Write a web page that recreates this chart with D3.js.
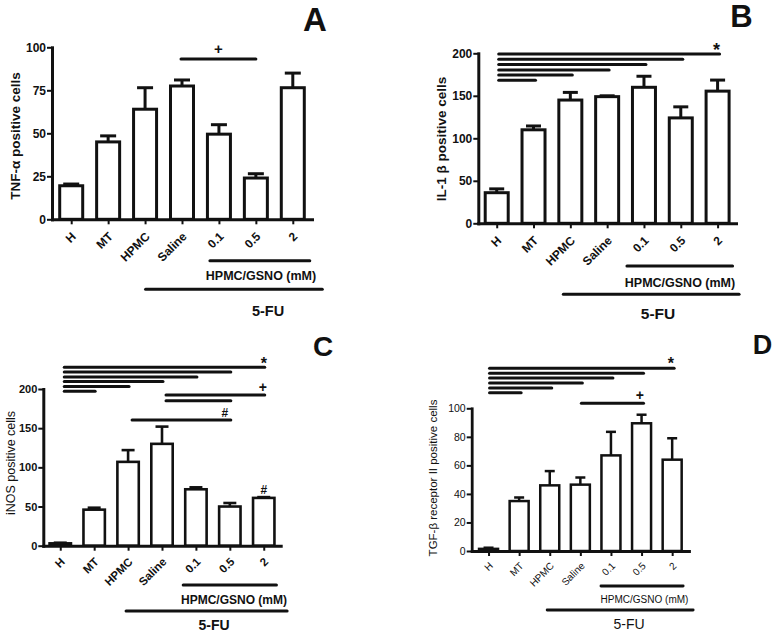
<!DOCTYPE html>
<html><head><meta charset="utf-8">
<script src="https://cdn.jsdelivr.net/npm/d3@7"></script>
<style>
body{margin:0;background:#fff}
svg{display:block}
text{font-family:"Liberation Sans",Arial,Helvetica,sans-serif;fill:#111}
</style>
</head><body>
<svg id="chart" width="776" height="637"></svg>
<script>
// ---------- DATA ----------
const categories = ["H", "MT", "HPMC", "Saline", "0.1", "0.5", "2"];

const tnfMean = [19.5, 45, 64, 77.5, 49.5, 24, 76.5];
const tnfErr  = [1, 3.5, 12.5, 3.5, 5.5, 2.5, 8.5];
const tnfTicks = [0, 25, 50, 75, 100];

const il1Mean = [36, 110, 145, 149, 160, 124, 155.5];
const il1Err  = [4.5, 4.5, 9, 1, 13, 13, 13];
const il1Ticks = [0, 50, 100, 150, 200];

const inosMean = [3, 46, 107, 130, 72, 50, 61];
const inosErr  = [0.8, 2.5, 15, 22, 2.5, 4.5, 1];
const inosTicks = [0, 50, 100, 150, 200];

const tgfMean = [1.5, 35, 46, 46.5, 67, 89.5, 64];
const tgfErr  = [0.8, 2.5, 10, 5, 16.5, 6, 15];
const tgfTicks = [0, 20, 40, 60, 80, 100];

// significance comparisons: [from, to, symbol]
const sigA = [["Saline", "0.5", "+"]];
const sigB = [["H","2","*"],["H","0.5",""],["H","0.1",""],["H","Saline",""],["H","HPMC",""],["H","MT",""]];
const sigC = [["H","2","*"],["H","0.5",""],["H","0.1",""],["H","Saline",""],["H","HPMC",""],["H","MT",""],
              ["Saline","2","+"],["Saline","0.5",""],["HPMC","0.5","#"]];
const sigD = [["H","2","*"],["H","0.5",""],["H","0.1",""],["H","Saline",""],["H","HPMC",""],["H","MT",""],
              ["Saline","0.5","+"]];
const barMarksC = [["2", "#"]];

const yLabels = ["TNF-\u03b1 positive cells", "IL-1 \u03b2 positive cells", "iNOS positive cells", "TGF-\u03b2 receptor II positive cells"];
const groupLabel = "HPMC/GSNO (mM)";
const drugLabel = "5-FU";
const panelLetters = ["A", "B", "C", "D"];

// ---------- DRAW ----------
const svg = d3.select("#chart");
const INK = "#111";

function panel(c) {
  const g = svg.append("g");
  const y = d3.scaleLinear().domain([0, d3.max(c.ticks)]).range([c.y0, c.yTop]);
  const x = d3.scalePoint().domain(categories).range([c.axisX, c.xEnd]).padding(c.pad);
  const w = c.barW - c.sw;

  // bars
  g.selectAll("rect.bar").data(c.mean).join("rect").attr("class", "bar")
    .attr("x", (d, i) => x(categories[i]) - w / 2)
    .attr("y", d => y(d))
    .attr("width", w)
    .attr("height", d => c.y0 - y(d))
    .attr("fill", "#fff").attr("stroke", INK).attr("stroke-width", c.sw);

  // error bars
  const eb = g.selectAll("g.eb").data(c.mean).join("g").attr("class", "eb");
  eb.append("line")
    .attr("x1", (d, i) => x(categories[i])).attr("x2", (d, i) => x(categories[i]))
    .attr("y1", d => y(d)).attr("y2", (d, i) => y(d + c.err[i]))
    .attr("stroke", INK).attr("stroke-width", c.sw);
  eb.append("line")
    .attr("x1", (d, i) => x(categories[i]) - c.capW / 2).attr("x2", (d, i) => x(categories[i]) + c.capW / 2)
    .attr("y1", (d, i) => y(d + c.err[i])).attr("y2", (d, i) => y(d + c.err[i]))
    .attr("stroke", INK).attr("stroke-width", c.sw);

  // y axis
  const ya = g.append("g").attr("transform", `translate(${c.axisX},0)`)
    .call(d3.axisLeft(y).tickValues(c.ticks).tickSize(5).tickSizeOuter(0).tickPadding(1));
  ya.select(".domain").attr("stroke", INK).attr("stroke-width", c.axW).attr("stroke-linecap", "square");
  ya.selectAll(".tick line").attr("stroke", INK).attr("stroke-width", 2);
  ya.selectAll(".tick text").attr("font-size", c.tickFs).attr("font-weight", c.bold ? "bold" : "normal")
    .attr("fill", INK).attr("font-family", null);

  // x axis
  const xa = g.append("g").attr("transform", `translate(0,${c.y0})`)
    .call(d3.axisBottom(x).tickSize(5).tickSizeOuter(0));
  xa.select(".domain").attr("stroke", INK).attr("stroke-width", c.axW).attr("stroke-linecap", "square");
  xa.selectAll(".tick line").attr("stroke", INK).attr("stroke-width", 2);
  xa.selectAll(".tick text")
    .attr("x", 0).attr("y", 0).attr("dy", "0.35em")
    .attr("transform", `translate(${c.lblDx},${c.lblDy}) rotate(-45)`)
    .style("text-anchor", "end")
    .attr("font-size", c.xFs).attr("font-weight", c.bold ? "bold" : "normal")
    .attr("fill", INK).attr("font-family", null);

  // y label
  g.append("text")
    .attr("transform", `translate(${c.yLab[0]},${c.yLab[1]}) rotate(-90)`)
    .attr("text-anchor", "middle").attr("dy", "0.35em")
    .attr("font-size", c.yFs).attr("font-weight", c.yBold ? "bold" : "normal")
    .text(c.yLabel);

  // significance lines
  c.sig.forEach((s, i) => {
    const x1 = x(s[0]) + c.sigOff[0], x2 = x(s[1]) + c.sigOff[1], ly = c.sigY[i];
    g.append("line").attr("x1", x1).attr("x2", x2).attr("y1", ly).attr("y2", ly)
      .attr("stroke", INK).attr("stroke-width", c.sigW).attr("stroke-linecap", "round");
    if (s[2]) {
      const st = c.sym[s[2]];
      const sx = c.symMid ? (x1 + x2) / 2 : x(s[1]) + st.dx;
      g.append("text").attr("x", sx).attr("y", ly + st.dy)
        .attr("text-anchor", "middle").attr("font-size", st.fs).attr("font-weight", st.bold ? "bold" : "normal")
        .text(s[2]);
    }
  });
  (c.barMarks || []).forEach(m => {
    const i = categories.indexOf(m[0]);
    const st = c.sym[m[1]];
    g.append("text").attr("x", x(m[0])).attr("y", y(c.mean[i] + c.err[i]) - 3.5)
      .attr("text-anchor", "middle").attr("font-size", st.fs).attr("font-weight", st.bold ? "bold" : "normal")
      .text(m[1]);
  });

  // group lines
  const gx1 = x("0.1") + c.g1[0], gx2 = x("2") + c.g1[1];
  g.append("line").attr("x1", gx1).attr("x2", gx2).attr("y1", c.g1[2]).attr("y2", c.g1[2])
    .attr("stroke", INK).attr("stroke-width", c.axW).attr("stroke-linecap", "round");
  g.append("text").attr("x", c.g1t[0]).attr("y", c.g1t[1]).attr("text-anchor", "middle")
    .attr("font-size", c.gFs).attr("font-weight", c.bold ? "bold" : "normal").text(groupLabel);
  const fx1 = x("HPMC") + c.g2[0], fx2 = x("2") + c.g2[1];
  g.append("line").attr("x1", fx1).attr("x2", fx2).attr("y1", c.g2[2]).attr("y2", c.g2[2])
    .attr("stroke", INK).attr("stroke-width", c.axW).attr("stroke-linecap", "round");
  g.append("text").attr("x", c.g2t[0]).attr("y", c.g2t[1]).attr("text-anchor", "middle")
    .attr("font-size", c.fFs).attr("font-weight", c.fBold ? "bold" : "normal").text(drugLabel);

  // panel letter
  g.append("text").attr("x", c.letter[0]).attr("y", c.letter[1]).attr("text-anchor", "middle")
    .attr("font-size", c.letter[2]).attr("font-weight", "bold").text(c.letterText);
}

panel({
  mean: tnfMean, err: tnfErr, ticks: tnfTicks, yLabel: yLabels[0], letterText: panelLetters[0],
  axisX: 52, xEnd: 312, pad: 0.52, y0: 219.3, yTop: 47.3,
  barW: 26, sw: 3, capW: 16, axW: 3, bold: true, yBold: true,
  tickFs: 12, xFs: 12, yFs: 13.5, gFs: 12.5, fFs: 14.5, fBold: true,
  lblDx: 2, lblDy: 15, yLab: [15, 136],
  sig: sigA, sigY: [59], sigOff: [-1, 0], sigW: 3, symMid: true,
  sym: {"+": {fs: 15, bold: true, dx: 0, dy: -5}},
  g1: [-9, 17, 260.7], g1t: [261, 280.3], g2: [0.5, 29.5, 289.3], g2t: [268, 316],
  letter: [315, 30.5, 33]
});

panel({
  mean: il1Mean, err: il1Err, ticks: il1Ticks, yLabel: yLabels[1], letterText: panelLetters[1],
  axisX: 478.3, xEnd: 736, pad: 0.5, y0: 223.3, yTop: 53.3,
  barW: 26, sw: 3, capW: 15, axW: 3, bold: true, yBold: true,
  tickFs: 12, xFs: 12, yFs: 13.5, gFs: 12.5, fFs: 15.5, fBold: true,
  lblDx: 2, lblDy: 15, yLab: [441, 139],
  sig: sigB, sigY: [54, 59.3, 64.6, 69.9, 75.1, 80.3], sigOff: [2, 2], sigW: 3, symMid: false,
  sym: {"*": {fs: 18, bold: true, dx: -1, dy: 1.8}},
  g1: [-17, 15, 266], g1t: [680, 287.3], g2: [-7, 21.5, 294.3], g2t: [658, 318.5],
  letter: [741.5, 27, 31]
});

panel({
  mean: inosMean, err: inosErr, ticks: inosTicks, yLabel: yLabels[2], letterText: panelLetters[2],
  axisX: 43.3, xEnd: 280.7, pad: 0.5, y0: 545.7, yTop: 389,
  barW: 24, sw: 2.6, capW: 13, axW: 3, bold: true, yBold: false,
  tickFs: 11, xFs: 11.5, yFs: 12.5, gFs: 12, fFs: 14, fBold: true,
  lblDx: 2, lblDy: 14, yLab: [11, 463],
  sig: sigC, sigY: [367.3, 372.1, 376.9, 381.6, 386.4, 391.3, 395, 400.7, 420], sigOff: [4, 1], sigW: 3, symMid: false,
  sym: {"*": {fs: 16, bold: true, dx: 0, dy: 1.5}, "+": {fs: 14, bold: true, dx: -1, dy: -3.5},
        "#": {fs: 12, bold: true, dx: -5, dy: -3}},
  barMarks: barMarksC,
  g1: [-12.7, 12.7, 585], g1t: [234, 603.5], g2: [-2, 23.4, 611], g2t: [214, 630],
  letter: [323, 355.5, 28]
});

panel({
  mean: tgfMean, err: tgfErr, ticks: tgfTicks, yLabel: yLabels[3], letterText: panelLetters[3],
  axisX: 471.7, xEnd: 689, pad: 0.55, y0: 551, yTop: 408.3,
  barW: 21.5, sw: 2.5, capW: 10, axW: 2.8, bold: false, yBold: false,
  tickFs: 10.5, xFs: 10, yFs: 11.5, gFs: 10, fFs: 14, fBold: false,
  lblDx: 2, lblDy: 13, yLab: [433.3, 478],
  sig: sigD, sigY: [368.3, 373.2, 378.1, 383.1, 388, 392.8, 403.3], sigOff: [1, 2], sigW: 3, symMid: false,
  sym: {"*": {fs: 16, bold: true, dx: -1.3, dy: 0.5}, "+": {fs: 14, bold: true, dx: -1.6, dy: -3.7}},
  g1: [-10, 11, 586], g1t: [644.5, 603], g2: [-2.6, 21, 610], g2t: [629, 629.3],
  letter: [762.5, 353.5, 27]
});
</script>
</body></html>
